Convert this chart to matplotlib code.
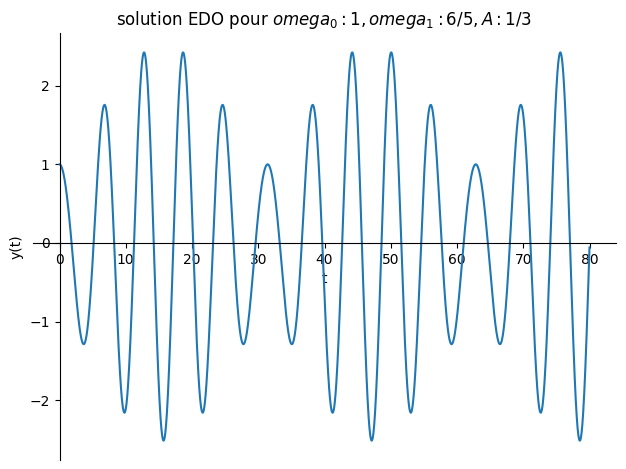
import numpy as np
import matplotlib
matplotlib.use("Agg")
import matplotlib.pyplot as plt

# Parameters of the ODE  y'' + omega0^2 y = A cos(omega1 t), y(0)=1, y'(0)=0 (from the title)
omega0 = 1.0
omega1 = 6 / 5
A = 1 / 3
y0 = 1.0
t_range = [0, 80]
n_points = 2000

t = np.linspace(t_range[0], t_range[1], n_points)
c = A / (omega0**2 - omega1**2)
y = (y0 - c) * np.cos(omega0 * t) + c * np.cos(omega1 * t)

fig, ax = plt.subplots(figsize=(6.26, 4.69), dpi=100)
ax.plot(t, y, color="#1f77b4", lw=1.5)
ax.spines["left"].set_position("zero")
ax.spines["bottom"].set_position("zero")
ax.spines["right"].set_color("none")
ax.spines["top"].set_color("none")
ax.xaxis.set_ticks_position("bottom")
ax.yaxis.set_ticks_position("left")
ax.set_xlabel("t")
ax.set_ylabel("y(t)")
ax.set_title(r"solution EDO pour $omega_0 : 1, omega_1 : 6/5, A : 1/3$")
fig.subplots_adjust(left=33 / 626, right=616 / 626, top=1 - 33 / 469, bottom=1 - 460 / 469)
fig.savefig("out.png", dpi=100)
